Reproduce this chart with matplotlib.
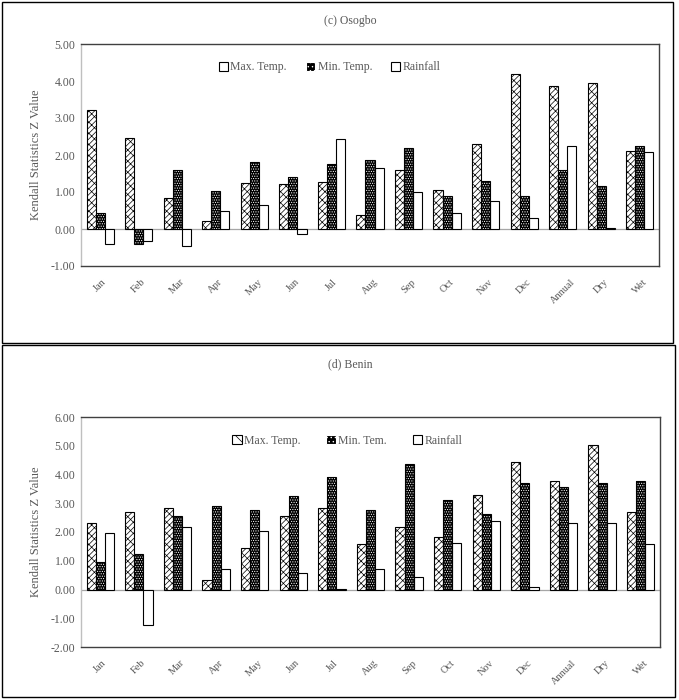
import matplotlib.pyplot as plt
from matplotlib.patches import Patch, Rectangle
import numpy as np

plt.rcParams['font.family'] = ['Liberation Serif', 'DejaVu Serif']
plt.rcParams['hatch.linewidth'] = 0.5

cats = ['Jan', 'Feb', 'Mar', 'Apr', 'May', 'Jun', 'Jul', 'Aug', 'Sep', 'Oct',
        'Nov', 'Dec', 'Annual', 'Dry', 'Wet']

# (c) Osogbo
osogbo_max = [3.22, 2.47, 0.85, 0.22, 1.24, 1.22, 1.27, 0.38, 1.59, 1.05, 2.30, 4.19, 3.86, 3.95, 2.11]
osogbo_min = [0.43, -0.41, 1.60, 1.03, 1.81, 1.41, 1.76, 1.86, 2.20, 0.89, 1.30, 0.89, 1.59, 1.16, 2.23]
osogbo_rain = [-0.41, -0.32, -0.47, 0.49, 0.65, -0.14, 2.43, 1.65, 1.00, 0.43, 0.76, 0.30, 2.23, 0.03, 2.08]

# (d) Benin
benin_max = [2.30, 2.71, 2.82, 0.32, 1.43, 2.54, 2.82, 1.58, 2.16, 1.84, 3.27, 4.42, 3.76, 5.01, 2.71]
benin_min = [0.95, 1.25, 2.54, 2.90, 2.75, 3.25, 3.93, 2.78, 4.35, 3.13, 2.64, 3.69, 3.56, 3.72, 3.76]
benin_rain = [1.95, -1.25, 2.19, 0.70, 2.05, 0.59, 0.02, 0.73, 0.45, 1.63, 2.37, 0.10, 2.30, 2.33, 1.60]

W, H = 679, 700
grey = '#595959'
fig = plt.figure(figsize=(W / 100, H / 100), dpi=100)


def px_axes(x0, y0, x1, y1):
    return fig.add_axes([x0 / W, 1 - y1 / H, (x1 - x0) / W, (y1 - y0) / H])


# panel borders
fig.patches.append(Rectangle((2 / W, 1 - 343 / H), 671 / W, 341 / H, transform=fig.transFigure,
                             fill=False, edgecolor='black', linewidth=1.0))
fig.patches.append(Rectangle((2 / W, 1 - 697 / H), 673 / W, 352 / H, transform=fig.transFigure,
                             fill=False, edgecolor='black', linewidth=1.0))

hatch_max = '//////\\\\\\'
hatch_min = '.......'


def panel(ax, vmax, vmin, vrain, ylim, min_label, title, title_y, leg_x, leg_sp):
    x = np.arange(len(cats))
    w = 0.235
    ax.axhline(0, color='#a6a6a6', linewidth=0.9, zorder=1)
    ax.bar(x - w, vmax, w, color='white', edgecolor='black', hatch=hatch_max, linewidth=0.8, zorder=2)
    ax.bar(x, vmin, w, color='black', edgecolor='white', hatch=hatch_min, linewidth=0, zorder=2)
    ax.bar(x, vmin, w, color='none', edgecolor='black', linewidth=0.8, zorder=3)
    ax.bar(x + w, vrain, w, color='white', edgecolor='black', linewidth=0.8, zorder=2)
    ax.set_xlim(-0.5, len(cats) - 0.5)
    ax.set_ylim(*ylim)
    ticks = np.arange(ylim[0], ylim[1] + 0.5, 1.0)
    ax.set_yticks(ticks)
    ax.set_yticklabels(['%.2f' % v for v in ticks], fontsize=8.5, color=grey)
    ax.set_xticks(x)
    ax.set_xticklabels(cats, rotation=45, fontsize=7.5, color=grey, ha='center', va='top')
    ax.tick_params(length=0, pad=4)
    ax.tick_params(axis='x', pad=8)
    for s in ax.spines.values():
        s.set_color('#404040')
        s.set_linewidth(1.0)
    ax.spines['left'].set_color('#bfbfbf')
    ax.set_ylabel('Kendall Statistics Z Value', fontsize=9, color=grey, labelpad=6)
    handles = [Patch(facecolor='white', edgecolor='black', hatch='/\\', linewidth=0.8),
               Patch(facecolor='black', edgecolor='white', hatch='....', linewidth=0.8),
               Patch(facecolor='white', edgecolor='black', linewidth=0.8)]
    ax.legend(handles, ['Max. Temp.', min_label, 'Rainfall'], ncol=3, frameon=False,
              loc='upper center', bbox_to_anchor=(leg_x, 0.97), fontsize=8.5,
              handlelength=0.8, handleheight=0.8, handletextpad=0.2, columnspacing=leg_sp,
              labelcolor=grey)
    fig.text(350 / W, 1 - title_y / H, title, fontsize=8.5, color=grey, ha='center', va='center')


ax1 = px_axes(81, 44, 659, 266)
panel(ax1, osogbo_max, osogbo_min, osogbo_rain, (-1, 5), 'Min. Temp.', '(c) Osogbo', 21, 0.43, 1.6)

ax2 = px_axes(81, 417, 660, 647)
panel(ax2, benin_max, benin_min, benin_rain, (-2, 6), 'Min. Tem.', '(d) Benin', 364, 0.46, 2.2)

fig.savefig('out.png', dpi=100)
